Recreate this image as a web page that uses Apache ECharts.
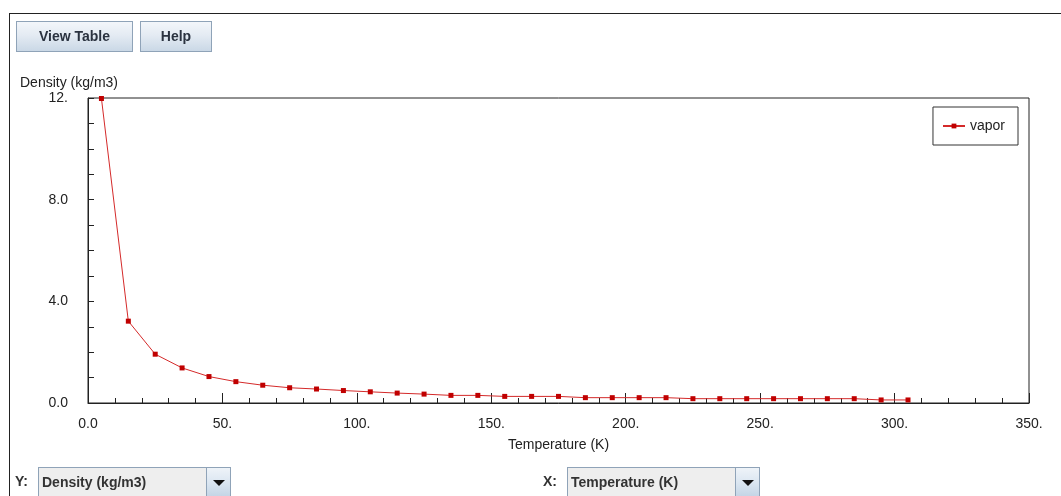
<!DOCTYPE html>
<html>
<head>
<meta charset="utf-8">
<script src="https://cdn.jsdelivr.net/npm/echarts@6/dist/echarts.min.js"></script>
<style>
  html, body { margin: 0; padding: 0; width: 1061px; height: 496px; overflow: hidden; background: #ffffff; font-family: "Liberation Sans", Arial, sans-serif; }
  #frame { position: absolute; left: 9px; top: 13px; width: 1100px; height: 500px; border-top: 1px solid #222; border-left: 1px solid #222; }
  #chart { position: absolute; left: 0; top: 0; width: 1061px; height: 496px; }
  .btn { position: absolute; top: 21px; height: 31px; box-sizing: border-box; border: 1px solid #8fa3b8;
         background: linear-gradient(to bottom, #f3f6fa 0%, #e4ebf3 45%, #cad8e6 100%);
         font: bold 14px "Liberation Sans", Arial, sans-serif; color: #2b3340; text-align: center; line-height: 29px; }
  .lbl { position: absolute; font: bold 14px "Liberation Sans", Arial, sans-serif; color: #333; top: 473px; }
  .combo { position: absolute; top: 467px; height: 31px; box-sizing: border-box; border: 1px solid #8fa3b8; background: #eeeeee; }
  .combo .txt { position: absolute; left: 3px; top: 6px; font: bold 14px "Liberation Sans", Arial, sans-serif; color: #333; white-space: nowrap; }
  .combo .arr { position: absolute; right: 0; top: 0; width: 23px; height: 29px; border-left: 1px solid #8fa3b8;
                background: linear-gradient(to bottom, #eef3f8 0%, #dbe6f1 50%, #c3d4e5 100%); }
  .combo .arr:after { content: ""; position: absolute; left: 6px; top: 12px; border-left: 6px solid transparent; border-right: 6px solid transparent; border-top: 6px solid #111; }
</style>
</head>
<body>
<div id="chart"></div>
<div id="frame"></div>
<div class="btn" style="left:16px; width:117px;">View Table</div>
<div class="btn" style="left:140px; width:72px;">Help</div>
<div class="lbl" style="left:15px;">Y:</div>
<div class="combo" style="left:38px; width:193px;"><span class="txt">Density (kg/m3)</span><span class="arr"></span></div>
<div class="lbl" style="left:543px;">X:</div>
<div class="combo" style="left:567px; width:193px;"><span class="txt">Temperature (K)</span><span class="arr"></span></div>
<script>
// ---- data ----
const seriesName = 'vapor';
const temperatures = [5, 15, 25, 35, 45, 55, 65, 75, 85, 95, 105, 115, 125, 135, 145, 155, 165, 175, 185, 195, 205, 215, 225, 235, 245, 255, 265, 275, 285, 295, 305];
const vaporDensity = [11.98, 3.22, 1.92, 1.38, 1.04, 0.84, 0.70, 0.60, 0.55, 0.49, 0.44, 0.39, 0.35, 0.30, 0.30, 0.26, 0.26, 0.26, 0.21, 0.21, 0.21, 0.21, 0.17, 0.17, 0.17, 0.17, 0.17, 0.17, 0.17, 0.12, 0.12];
const xTicks = [0, 50, 100, 150, 200, 250, 300, 350];
const xTickLabels = ['0.0', '50.', '100.', '150.', '200.', '250.', '300.', '350.'];
const yTicks = [0, 4, 8, 12];
const yTickLabels = ['0.0', '4.0', '8.0', '12.'];
const xAxisTitle = 'Temperature (K)';
const yAxisTitle = 'Density (kg/m3)';

const chart = echarts.init(document.getElementById('chart'), null, { renderer: 'canvas' });
const fontFamily = '"Liberation Sans", Arial, sans-serif';
const option = {
  animation: false,
  title: {
    text: yAxisTitle, left: 15, top: 71,
    textStyle: { fontSize: 14, fontWeight: 'normal', color: '#222', fontFamily: fontFamily }
  },
  legend: {
    data: [seriesName], right: 43, top: 107, orient: 'vertical',
    borderColor: '#333', borderWidth: 1, padding: [12, 13, 12, 9],
    itemWidth: 22, itemHeight: 6, itemGap: 0,
    textStyle: { fontSize: 14, color: '#222', fontFamily: fontFamily }
  },
  grid: { left: 88, top: 98, width: 941, height: 305, show: true, borderColor: '#222', borderWidth: 1, backgroundColor: '#fff' },
  xAxis: {
    type: 'value', min: 0, max: 350, interval: 50,
    name: xAxisTitle, nameLocation: 'middle', nameGap: 35,
    nameTextStyle: { fontSize: 14, color: '#222', fontFamily: fontFamily },
    axisLine: { show: true, lineStyle: { color: '#222', width: 1 } },
    axisTick: { show: true, inside: true, length: 10, lineStyle: { color: '#222' } },
    minorTick: { show: true, splitNumber: 5, length: 5, lineStyle: { color: '#222' } },
    splitLine: { show: false },
    axisLabel: { margin: 14, fontSize: 14, color: '#222', fontFamily: fontFamily,
      formatter: v => { const i = xTicks.indexOf(v); return i >= 0 ? xTickLabels[i] : ''; } }
  },
  yAxis: {
    type: 'value', min: 0, max: 12, interval: 4,
    axisLine: { show: true, lineStyle: { color: '#222', width: 1 } },
    axisTick: { show: true, inside: true, length: 6, lineStyle: { color: '#222' } },
    minorTick: { show: true, splitNumber: 4, length: 6, lineStyle: { color: '#222' } },
    splitLine: { show: false },
    axisLabel: { margin: 20, fontSize: 14, color: '#222', fontFamily: fontFamily,
      formatter: v => { const i = yTicks.indexOf(v); return i >= 0 ? yTickLabels[i] : ''; } }
  },
  series: [{
    name: seriesName, type: 'line',
    data: temperatures.map((t, i) => [t, vaporDensity[i]]),
    symbol: 'rect', symbolSize: 5, showSymbol: true,
    lineStyle: { color: '#d42a2a', width: 1 },
    itemStyle: { color: '#c00000' }
  }]
};
chart.setOption(option);
</script>
</body>
</html>
